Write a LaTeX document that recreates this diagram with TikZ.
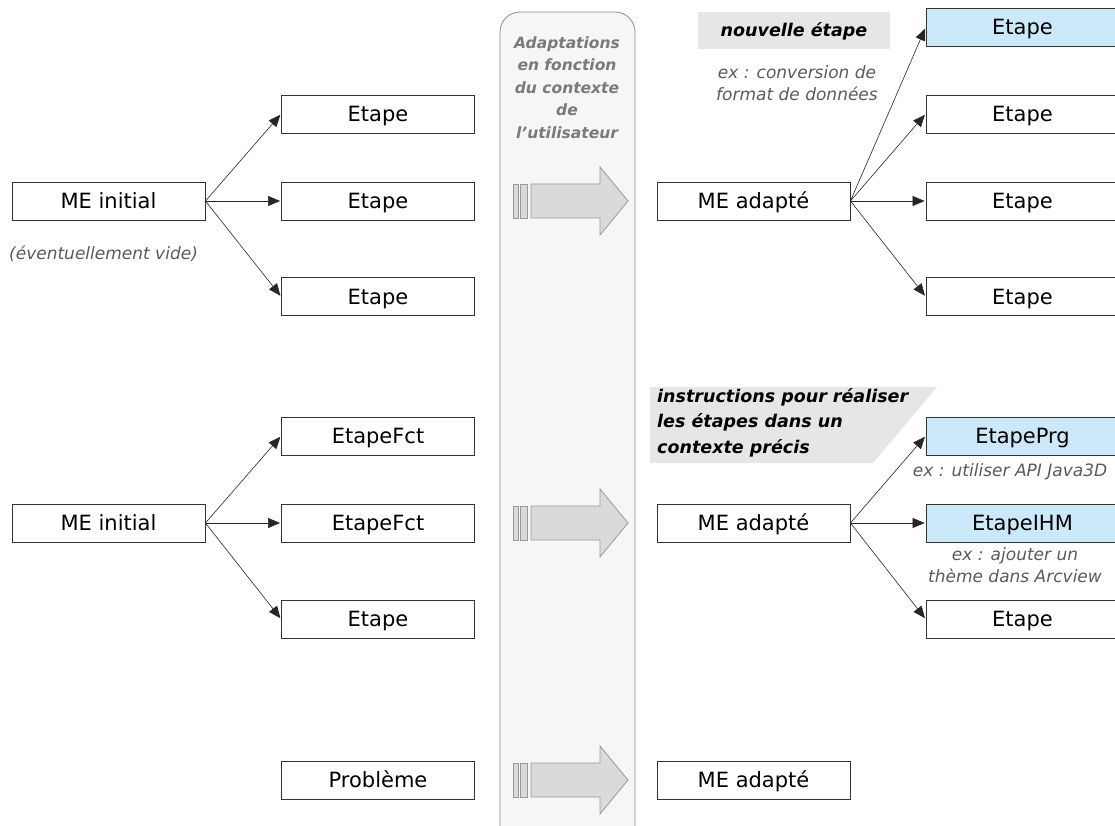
\documentclass[tikz,border=0pt]{standalone}
\usepackage{fontspec}
\setmainfont{DejaVu Sans}
\usetikzlibrary{arrows.meta}
\definecolor{bluefill}{HTML}{CCE9FA}
\definecolor{labgray}{HTML}{E6E6E6}
\definecolor{txtgray}{HTML}{5A5A5A}
\definecolor{panelfill}{HTML}{F6F6F6}
\definecolor{paneldraw}{HTML}{8C8C8C}
\definecolor{arrfill}{HTML}{DADADA}
\definecolor{arrdraw}{HTML}{999999}
\tikzset{
  box/.style={draw=black!80, line width=0.9pt, minimum width=193pt, minimum height=38pt, inner sep=0pt, text height=15pt, text depth=0pt, font=\fontsize{21}{24}\selectfont, fill=white},
  bluebox/.style={box, fill=bluefill},
  conn/.style={draw=black!85, line width=0.6pt, -{Triangle[length=12pt,width=10pt]}, shorten >=1pt},
  note/.style={font=\fontsize{17}{21.5}\selectfont\itshape, text=txtgray, align=center, inner sep=0pt},
  lab/.style={font=\fontsize{17.5}{25.5}\selectfont\bfseries\itshape, text=black, inner sep=0pt},
  bigarrow/.style={fill=arrfill, draw=arrdraw, line width=0.8pt}
}
\newcommand{\blockarrow}[1]{%
  \draw[bigarrow] (513,#1-17) rectangle (518,#1+17);
  \draw[bigarrow] (520,#1-17) rectangle (527,#1+17);
  \draw[bigarrow] (531,#1-17) -- (600,#1-17) -- (600,#1-34) -- (628,#1) -- (600,#1+34) -- (600,#1+17) -- (531,#1+17) -- cycle;
}
\begin{document}
\begin{tikzpicture}[x=1pt,y=-1pt]
\useasboundingbox (0,0) rectangle (1115,826);
\clip (0,0) rectangle (1115,826);
% central panel
\draw[fill=panelfill, draw=paneldraw, line width=0.8pt, rounded corners=20pt] (500,12) rectangle (635,850);
\node[font=\fontsize{15.5}{22.5}\selectfont\bfseries\itshape, text=black!52, align=center, anchor=north] (paneltxt) at (567,33)
  {Adaptations\\en fonction\\du contexte\\de\\l’utilisateur};
\blockarrow{201}
\blockarrow{523}
\blockarrow{780}

% ---- group 1 left
\node[box] (mei1) at (108.5,201) {ME initial};
\node[box] (e11) at (378,114) {Etape};
\node[box] (e12) at (378,201) {Etape};
\node[box] (e13) at (378,296.5) {Etape};
\node[note, anchor=west] (vide) at (9,254) {(éventuellement vide)};
\draw[conn] (mei1.east) -- (e11.west);
\draw[conn] (mei1.east) -- (e12.west);
\draw[conn] (mei1.east) -- (e13.west);

% ---- group 1 right
\node[box] (mea1) at (753.5,201) {ME adapté};
\node[bluebox] (r10) at (1022.5,27.5) {Etape};
\node[box] (r11) at (1022.5,114) {Etape};
\node[box] (r12) at (1022.5,201) {Etape};
\node[box] (r13) at (1022.5,296.5) {Etape};
\draw[conn] (mea1.east) -- (r10.west);
\draw[conn] (mea1.east) -- (r11.west);
\draw[conn] (mea1.east) -- (r12.west);
\draw[conn] (mea1.east) -- (r13.west);
\fill[labgray] (698,12) rectangle (890,49);
\node[lab] (nouv) at (794,31) {nouvelle étape};
\node[note] (exconv) at (797,83) {ex : conversion de\\format de données};

% ---- group 2 left
\node[box] (mei2) at (108.5,523) {ME initial};
\node[box] (e21) at (378,436) {EtapeFct};
\node[box] (e22) at (378,523) {EtapeFct};
\node[box] (e23) at (378,619) {Etape};
\draw[conn] (mei2.east) -- (e21.west);
\draw[conn] (mei2.east) -- (e22.west);
\draw[conn] (mei2.east) -- (e23.west);

% ---- group 2 right
\node[box] (mea2) at (753.5,523) {ME adapté};
\node[bluebox] (r21) at (1022.5,436) {EtapePrg};
\node[bluebox] (r22) at (1022.5,523) {EtapeIHM};
\node[box] (r23) at (1022.5,619) {Etape};
\draw[conn] (mea2.east) -- (r21.west);
\draw[conn] (mea2.east) -- (r22.west);
\draw[conn] (mea2.east) -- (r23.west);
\fill[labgray] (650,387) -- (937,387) -- (873,463) -- (650,463) -- cycle;
\node[lab, align=left, anchor=north west] (instr) at (657,388) {instructions pour réaliser\\les étapes dans un\\contexte précis};
\node[note] (exjava) at (1010,472) {ex : utiliser API Java3D};
\node[note] (exarc) at (1015,565) {ex : ajouter un\\thème dans Arcview};

% ---- group 3
\node[box] (prob) at (378,780) {Problème};
\node[box] (mea3) at (753.5,780) {ME adapté};
\end{tikzpicture}
\end{document}
